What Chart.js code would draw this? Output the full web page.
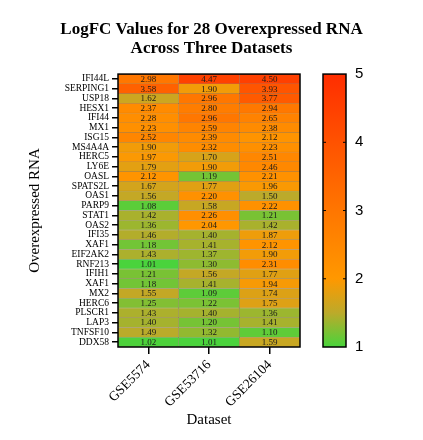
<!DOCTYPE html>
<html>
<head>
<meta charset="utf-8">
<script src="https://cdn.jsdelivr.net/npm/chart.js@4.4.1/dist/chart.umd.min.js"></script>
<style>
  html, body { margin: 0; padding: 0; background: #fff; }
</style>
</head>
<body>
<canvas id="heatmap" width="423" height="440"></canvas>
<script>
// row labels, top to bottom
const genes = ['IFI44L', 'SERPING1', 'USP18', 'HESX1', 'IFI44', 'MX1', 'ISG15', 'MS4A4A', 'HERC5', 'LY6E',
  'OASL', 'SPATS2L', 'OAS1', 'PARP9', 'STAT1', 'OAS2', 'IFI35', 'XAF1', 'EIF2AK2', 'RNF213',
  'IFIH1', 'XAF1', 'MX2', 'HERC6', 'PLSCR1', 'LAP3', 'TNFSF10', 'DDX58'];
const datasetNames = ['GSE5574', 'GSE53716', 'GSE26104'];

// logFC per dataset (same order as genes)
const gse5574 = [2.98, 3.58, 1.62, 2.37, 2.28, 2.23, 2.52, 1.90, 1.97, 1.79,
  2.12, 1.67, 1.56, 1.08, 1.42, 1.36, 1.46, 1.18, 1.43, 1.01,
  1.21, 1.18, 1.55, 1.25, 1.43, 1.40, 1.49, 1.02];
const gse53716 = [4.47, 1.90, 2.96, 2.80, 2.96, 2.59, 2.39, 2.32, 1.70, 1.90,
  1.19, 1.77, 2.20, 1.58, 2.26, 2.04, 1.40, 1.41, 1.37, 1.30,
  1.56, 1.41, 1.09, 1.22, 1.40, 1.20, 1.32, 1.01];
const gse26104 = [4.50, 3.93, 3.77, 2.94, 2.65, 2.38, 2.12, 2.23, 2.51, 2.46,
  2.21, 1.96, 1.50, 2.22, 1.21, 1.42, 1.87, 2.12, 1.90, 2.31,
  1.77, 1.94, 1.74, 1.75, 1.36, 1.41, 1.10, 1.59];
const allValues = [gse5574, gse53716, gse26104];

const colorbarMin = 1;
const colorbarMax = 5;

// green -> olive -> orange -> red
const colorStops = [
  [1.0, [72, 212, 60]],
  [1.5, [188, 170, 42]],
  [2.0, [255, 152, 0]],
  [3.0, [255, 118, 0]],
  [4.0, [255, 82, 0]],
  [5.0, [255, 45, 0]]
];

function colorFor(v) {
  if (v <= colorStops[0][0]) return rgb(colorStops[0][1]);
  for (let i = 1; i < colorStops.length; i++) {
    const [v1, c1] = colorStops[i];
    const [v0, c0] = colorStops[i - 1];
    if (v <= v1) {
      const t = (v - v0) / (v1 - v0);
      return rgb(c0.map((c, k) => c + (c1[k] - c) * t));
    }
  }
  return rgb(colorStops[colorStops.length - 1][1]);
}
function rgb(c) {
  return 'rgb(' + c.map(Math.round).join(',') + ')';
}

const serif = 'Liberation Serif, Times New Roman, serif';

// numbers inside each cell
const cellText = {
  id: 'cellText',
  afterDatasetsDraw(chart) {
    const ctx = chart.ctx;
    ctx.save();
    ctx.font = '9px ' + serif;
    ctx.fillStyle = '#1a1a1a';
    ctx.textAlign = 'center';
    ctx.textBaseline = 'middle';
    chart.data.datasets.forEach((ds, i) => {
      chart.getDatasetMeta(i).data.forEach((bar, j) => {
        const p = bar.getCenterPoint();
        ctx.fillText(allValues[i][j].toFixed(2), p.x, p.y + 0.5);
      });
    });
    ctx.restore();
  }
};

// frame around the heatmap + colour bar
const frameAndColorbar = {
  id: 'frameAndColorbar',
  afterDraw(chart) {
    const ctx = chart.ctx;
    const a = chart.chartArea;
    ctx.save();
    ctx.strokeStyle = '#000';
    ctx.lineWidth = 1.5;
    ctx.strokeRect(a.left, a.top, a.right - a.left, a.bottom - a.top);

    const cb = chart.scales.cb;
    const x0 = cb.left + 23;
    const w = 23;
    const yTop = cb.getPixelForValue(colorbarMax);
    const yBot = cb.getPixelForValue(colorbarMin);
    const grad = ctx.createLinearGradient(0, yBot, 0, yTop);
    colorStops.forEach(([v, c]) => {
      grad.addColorStop((v - colorbarMin) / (colorbarMax - colorbarMin), rgb(c));
    });
    ctx.fillStyle = grad;
    ctx.fillRect(x0, yTop, w, yBot - yTop);
    ctx.strokeRect(x0, yTop, w, yBot - yTop);
    ctx.lineWidth = 1;
    cb.ticks.forEach(t => {
      if (t.value === colorbarMin || t.value === colorbarMax) return;
      const y = cb.getPixelForValue(t.value);
      ctx.beginPath();
      ctx.moveTo(x0, y); ctx.lineTo(x0 + 3, y);
      ctx.moveTo(x0 + w - 3, y); ctx.lineTo(x0 + w, y);
      ctx.stroke();
    });
    ctx.restore();
  }
};

Chart.defaults.color = '#000';

new Chart(document.getElementById('heatmap'), {
  type: 'bar',
  data: {
    labels: genes,
    datasets: datasetNames.map((name, i) => ({
      label: name,
      data: genes.map(() => 1),
      backgroundColor: allValues[i].map(colorFor),
      borderColor: 'rgba(70, 40, 0, 0.4)',
      borderWidth: 0.5,
      borderSkipped: false,
      barPercentage: 1,
      categoryPercentage: 1
    }))
  },
  options: {
    indexAxis: 'y',
    responsive: false,
    animation: false,
    layout: { padding: 0 },
    plugins: {
      legend: { display: false },
      tooltip: { enabled: false },
      title: {
        display: true,
        text: ['LogFC Values for 28 Overexpressed RNA', 'Across Three Datasets'],
        color: '#000',
        font: { family: serif, size: 17, weight: 'bold', lineHeight: 1.12 },
        padding: { top: 20, bottom: 16 }
      }
    },
    scales: {
      x: {
        type: 'linear',
        stacked: true,
        min: 0,
        max: datasetNames.length,
        afterBuildTicks: s => { s.ticks = datasetNames.map((_, i) => ({ value: i + 0.5 })); },
        afterFit: s => { s.height = 93; },
        border: { display: false },
        grid: { drawOnChartArea: false, tickLength: 7, color: '#000', lineWidth: 1.5 },
        ticks: {
          autoSkip: false,
          minRotation: 45,
          maxRotation: 45,
          padding: 3,
          font: { family: serif, size: 13.5 },
          callback: (v, i) => datasetNames[i]
        },
        title: {
          display: true,
          text: 'Dataset',
          font: { family: serif, size: 15 },
          padding: { top: 0, bottom: 11 }
        }
      },
      y: {
        type: 'category',
        stacked: true,
        afterFit: s => { s.width = 118; },
        border: { display: false },
        grid: { drawOnChartArea: false, offset: false, tickLength: 6, color: '#000', lineWidth: 1.5 },
        ticks: {
          autoSkip: false,
          padding: 3,
          font: { family: serif, size: 9.5 }
        },
        title: {
          display: true,
          text: 'Overexpressed RNA',
          font: { family: serif, size: 15 },
          padding: { top: 26, bottom: 0 }
        }
      },
      cb: {
        type: 'linear',
        position: 'right',
        offset: false,
        min: colorbarMin,
        max: colorbarMax,
        afterFit: s => { s.width = 123; },
        border: { display: false },
        grid: { display: false, drawTicks: false },
        ticks: {
          stepSize: 1,
          padding: 55,
          font: { family: 'Liberation Sans, Arial, sans-serif', size: 15 }
        }
      }
    }
  },
  plugins: [cellText, frameAndColorbar]
});
</script>
</body>
</html>
